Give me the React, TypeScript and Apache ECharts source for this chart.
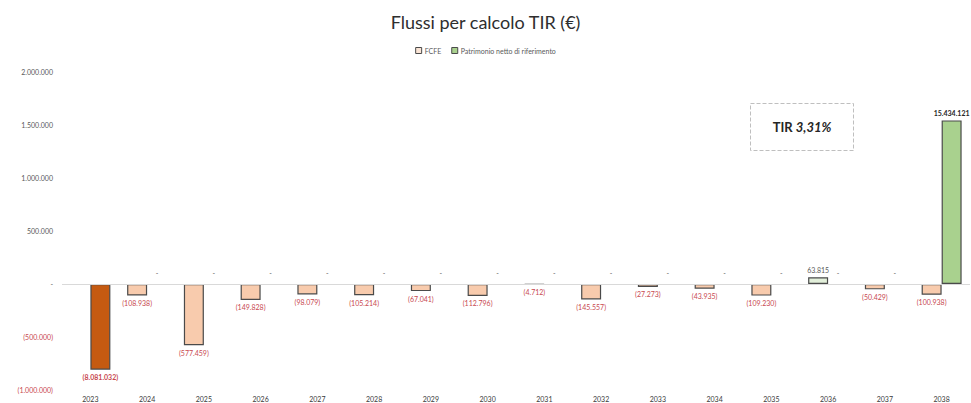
import React, { useEffect, useRef } from "react";
import * as echarts from "echarts";

const years = ["2023","2024","2025","2026","2027","2028","2029","2030","2031","2032","2033","2034","2035","2036","2037","2038"];
const fcfe: (number | null)[] = [null, -108938, -577459, -149828, -98079, -105214, -67041, -112796, -4712, -145557, -27273, -43935, -109230, 63815, -50429, -100938];
const patrimonio: number[] = [-808103.2, 0, 0, 0, 0, 0, 0, 0, 0, 0, 0, 0, 0, 0, 0, 1543412.1];
const patrimonioLabels: string[] = ["(8.081.032)", "-", "-", "-", "-", "-", "-", "-", "-", "-", "-", "-", "-", "-", "-", "15.434.121"];
const yTicks = { min: -1000000, max: 2000000, interval: 500000 };
const tirText = { label: "TIR", value: "3,31%" };

const FONT = "Lato, 'Open Sans', sans-serif";
const RED = "#c8484f";
const GRAY = "#595959";
const BORDER = "#4a4a4a";

function fmt(n: number): string {
  return Math.round(Math.abs(n)).toString().replace(/\B(?=(\d{3})+(?!\d))/g, ".");
}
function acct(n: number): string {
  if (n === 0) return "-";
  return n < 0 ? "(" + fmt(n) + ")" : fmt(n);
}

export default function App() {
  const ref = useRef<HTMLDivElement>(null);
  useEffect(() => {
    if (!ref.current) return;
    const chart = echarts.init(ref.current, null, { renderer: "svg" });

    const fcfeData = fcfe.map((v) => {
      if (v === null) return { value: null };
      const neg = v < 0;
      return {
        value: v,
        itemStyle: { color: neg ? "#f8cbad" : "#e2efda", borderColor: BORDER, borderWidth: 1.2 },
        label: {
          show: true,
          position: neg ? "bottom" : "top",
          distance: 4,
          color: neg ? RED : GRAY,
          fontSize: 7,
          fontFamily: FONT,
          formatter: () => acct(v),
        },
      };
    });

    const patData = patrimonio.map((v, i) => {
      const neg = v < 0;
      return {
        value: v,
        itemStyle: {
          color: v === 0 ? "rgba(255,255,255,0)" : neg ? "#c55a11" : "#a9d18e",
          borderColor: v === 0 ? "rgba(255,255,255,0)" : BORDER,
          borderWidth: v === 0 ? 0 : 1.2,
        },
        label: {
          show: true,
          position: neg ? "bottom" : "top",
          distance: v === 0 ? 8 : 4,
          color: neg ? RED : v === 0 ? GRAY : "#262626",
          fontWeight: v === 0 ? "normal" : "bold",
          fontSize: 7,
          fontFamily: FONT,
          formatter: () => patrimonioLabels[i],
        },
      };
    });

    chart.setOption({
      animation: false,
      backgroundColor: "#ffffff",
      title: {
        text: "Flussi per calcolo TIR (€)",
        left: "center",
        top: 8,
        textStyle: { fontFamily: FONT, fontSize: 18, fontWeight: "normal", color: "#2e2e2e" },
      },
      legend: {
        top: 42,
        left: "center",
        icon: "rect",
        itemWidth: 6,
        itemHeight: 6,
        itemGap: 10,
        textStyle: { fontFamily: FONT, fontSize: 7, color: GRAY, padding: [0, 0, 0, -2] },
        data: [
          { name: "FCFE", itemStyle: { color: "#fbe5d6", borderColor: BORDER, borderWidth: 1 } },
          { name: "Patrimonio netto di riferimento", itemStyle: { color: "#a9d18e", borderColor: BORDER, borderWidth: 1 } },
        ],
      },
      grid: { left: 62, right: 1, top: 72, bottom: 13, containLabel: false },
      xAxis: {
        type: "category",
        data: years,
        axisLine: { show: false },
        axisTick: { show: false },
        axisLabel: { fontFamily: FONT, fontSize: 7, color: "#3a3a3a", margin: 5 },
      },
      yAxis: {
        type: "value",
        min: yTicks.min,
        max: yTicks.max,
        interval: yTicks.interval,
        splitLine: { show: false },
        axisLine: { show: false },
        axisTick: { show: false },
        axisLabel: {
          fontFamily: FONT,
          fontSize: 7,
          margin: 9,
          formatter: (v: number) => (v < 0 ? "{n|" + acct(v) + "}" : "{p|" + acct(v) + "}"),
          rich: {
            n: { color: RED, fontFamily: FONT, fontSize: 7 },
            p: { color: GRAY, fontFamily: FONT, fontSize: 7 },
          },
        },
      },
      series: [
        {
          name: "FCFE",
          type: "bar",
          barWidth: 20,
          barGap: "0%",
          itemStyle: { color: "#f8cbad", borderColor: BORDER, borderWidth: 1.2 },
          data: fcfeData,
          markLine: {
            silent: true,
            symbol: ["none", "none"],
            label: { show: false },
            lineStyle: { color: "#d9d9d9", type: "solid", width: 1 },
            data: [{ yAxis: 0 }],
          },
        },
        {
          name: "Patrimonio netto di riferimento",
          type: "bar",
          barWidth: 20,
          barGap: "0%",
          itemStyle: { color: "#a9d18e", borderColor: BORDER, borderWidth: 1.2 },
          data: patData,
        },
      ],
      graphic: [
        {
          type: "group",
          left: 750,
          top: 103,
          children: [
            {
              type: "rect",
              shape: { x: 0, y: 0, width: 103, height: 47 },
              style: { fill: "#ffffff", stroke: "#bfbfbf", lineWidth: 1, lineDash: [4, 2] },
            },
            {
              type: "text",
              x: 51.5,
              y: 23.5,
              style: {
                text: "{a|" + tirText.label + " }{b|" + tirText.value + "}",
                align: "center",
                verticalAlign: "middle",
                rich: {
                  a: { fontFamily: FONT, fontSize: 13, fontWeight: "bold", fill: "#262626" },
                  b: { fontFamily: FONT, fontSize: 13, fontWeight: "bold", fontStyle: "italic", fill: "#262626" },
                },
              },
            },
          ],
        },
      ],
    });

    return () => chart.dispose();
  }, []);

  return <div ref={ref} style={{ width: 971, height: 403, position: "absolute", left: 0, top: 0 }} />;
}
